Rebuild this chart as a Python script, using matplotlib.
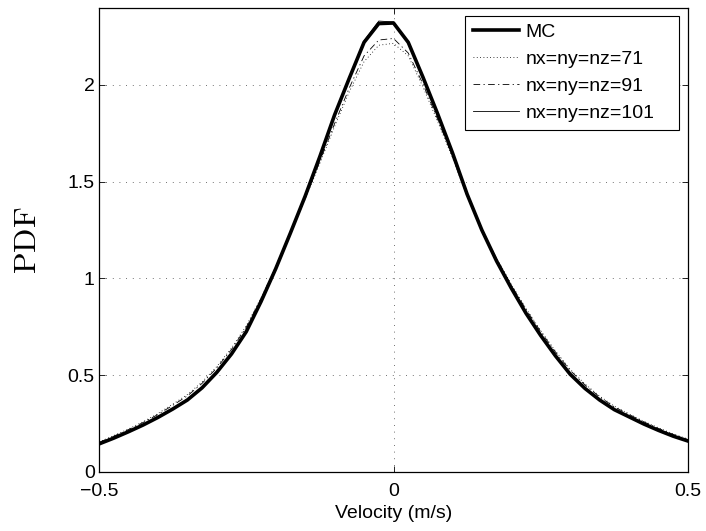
import numpy as np
import matplotlib
matplotlib.use('Agg')
import matplotlib.pyplot as plt

plt.rcParams['font.family'] = ['Liberation Sans', 'DejaVu Sans']
plt.rcParams['mathtext.fontset'] = 'cm'

# скорость (m/s)
velocity = [-0.500, -0.475, -0.450, -0.425, -0.400, -0.375, -0.350, -0.325, -0.300,
            -0.275, -0.250, -0.225, -0.200, -0.175, -0.150, -0.125, -0.100, -0.075,
            -0.050, -0.025, 0.000, 0.025, 0.050, 0.075, 0.100, 0.125, 0.150, 0.175,
            0.200, 0.225, 0.250, 0.275, 0.300, 0.325, 0.350, 0.375, 0.400, 0.425,
            0.450, 0.475, 0.500]

pdf_mc = [0.145, 0.175, 0.208, 0.243, 0.282, 0.325, 0.372, 0.435, 0.515,
          0.610, 0.725, 0.880, 1.050, 1.235, 1.425, 1.630, 1.845, 2.035,
          2.220, 2.317, 2.320, 2.220, 2.040, 1.850, 1.650, 1.435, 1.250, 1.090,
          0.950, 0.820, 0.705, 0.600, 0.505, 0.432, 0.372, 0.322, 0.285, 0.248,
          0.215, 0.185, 0.160]

pdf_71 = [0.155, 0.188, 0.222, 0.260, 0.302, 0.350, 0.400, 0.465, 0.545,
          0.640, 0.755, 0.900, 1.060, 1.235, 1.410, 1.595, 1.785, 1.965,
          2.120, 2.205, 2.215, 2.150, 1.990, 1.810, 1.625, 1.425, 1.255, 1.105,
          0.970, 0.845, 0.730, 0.625, 0.530, 0.455, 0.392, 0.340, 0.300, 0.262,
          0.228, 0.197, 0.170]

pdf_91 = [0.153, 0.185, 0.219, 0.256, 0.297, 0.344, 0.393, 0.458, 0.538,
          0.633, 0.748, 0.895, 1.058, 1.236, 1.415, 1.605, 1.800, 1.985,
          2.150, 2.232, 2.240, 2.165, 2.005, 1.822, 1.632, 1.428, 1.255, 1.102,
          0.965, 0.840, 0.725, 0.620, 0.525, 0.450, 0.388, 0.336, 0.297, 0.259,
          0.225, 0.194, 0.167]

pdf_101 = [0.148, 0.178, 0.211, 0.246, 0.285, 0.328, 0.375, 0.438, 0.517,
           0.612, 0.727, 0.881, 1.050, 1.234, 1.424, 1.630, 1.846, 2.040,
           2.228, 2.330, 2.325, 2.222, 2.040, 1.849, 1.649, 1.435, 1.251, 1.092,
           0.952, 0.823, 0.708, 0.603, 0.508, 0.435, 0.375, 0.325, 0.288, 0.251,
           0.218, 0.188, 0.163]

fig = plt.figure(figsize=(7.06, 5.31), dpi=100)
ax = fig.add_axes([99 / 706, 1 - 472 / 531, 589 / 706, 464.5 / 531])

ax.plot(velocity, pdf_mc, color='k', lw=2.6, label='MC')
ax.plot(velocity, pdf_71, color='k', lw=0.6, linestyle=(0, (1, 3)), label='nx=ny=nz=71')
ax.plot(velocity, pdf_91, color='k', lw=0.6, linestyle=(0, (8, 4, 1.5, 4)), label='nx=ny=nz=91')
ax.plot(velocity, pdf_101, color='k', lw=0.6, label='nx=ny=nz=101')

ax.set_xlim(-0.5, 0.5)
ax.set_ylim(0, 2.4)
ax.set_xticks([-0.5, 0, 0.5])
ax.set_xticklabels(['\u22120.5', '0', '0.5'])
ax.set_yticks([0, 0.5, 1, 1.5, 2])
ax.set_yticklabels(['0', '0.5', '1', '1.5', '2'])
ax.tick_params(direction='in', length=4, width=0.6, top=True, right=True,
               labelsize=14, pad=3)
ax.tick_params(axis='x', pad=8)
for s in ax.spines.values():
    s.set_linewidth(0.9)

ax.grid(True, color='0.25', linestyle=(0, (1, 7)), linewidth=0.6)

ax.set_xlabel('Velocity (m/s)', fontsize=14, labelpad=3.5)
ax.set_ylabel(r'$\mathrm{PDF}$', fontsize=23, labelpad=18)

# рамка легенды шире текста, как в MATLAB
leg = ax.legend(loc='upper left', bbox_to_anchor=(0.6214, 0.0, 0.3633, 0.9823),
                mode='expand', fontsize=14, fancybox=False, edgecolor='k',
                framealpha=1, borderaxespad=0.0, handlelength=2.4,
                handletextpad=0.3, borderpad=0.4, labelspacing=0.48)
leg.get_frame().set_linewidth(0.8)

plt.savefig('out.png', dpi=100)
